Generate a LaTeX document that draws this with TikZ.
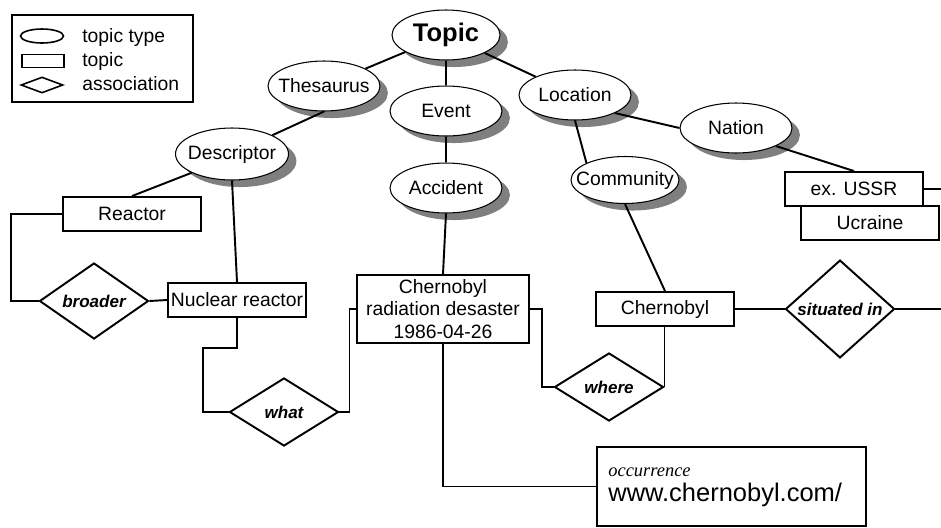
\documentclass[tikz,border=0pt]{standalone}
\usepackage{fontspec}
\setmainfont{Liberation Sans}
\newfontfamily\occserif{Liberation Serif}
\usepackage{tikz}
\usetikzlibrary{shapes.geometric,calc,backgrounds}
\newcommand{\zerowd}[1]{\makebox[0pt]{#1}}

\begin{document}
\begin{tikzpicture}[x=0.2mm, y=-0.2mm,
    every node/.style={font=\fontsize{11}{13}\selectfont},
    topictype/.style={ellipse, draw, line width=0.6pt, fill=white, inner sep=0pt, minimum width=2.24cm, minimum height=1.0cm},
    topicbox/.style={rectangle, draw, line width=1.1pt, fill=white, inner sep=0pt, minimum width=2.76cm, minimum height=0.68cm},
    assoc/.style={diamond, draw, line width=1.1pt, fill=white, inner sep=0pt, minimum width=2.18cm, minimum height=1.36cm, font=\fontsize{9.7}{11}\selectfont\bfseries\itshape},
    typeshadow/.style={fill=black, fill opacity=0.5},
    link/.style={line width=1.1pt}]
    \useasboundingbox (0,0) rectangle (941,527);
    \coordinate (rim) at (941,0);

    % Legend
    \node[draw, line width=0.9pt, inner sep=0pt, minimum width=3.62cm, minimum height=1.74cm] (legend) at (102.5,58.5) {};
    \node[ellipse, draw, line width=0.9pt, inner sep=0pt, minimum width=0.86cm, minimum height=0.28cm] (keytype) at (42,36) {};
    \node[rectangle, draw, line width=0.9pt, inner sep=0pt, minimum width=0.84cm, minimum height=0.26cm] (keytopic) at (43,61) {};
    \node[diamond, draw, line width=0.9pt, inner sep=0pt, minimum width=0.84cm, minimum height=0.32cm] (keyassoc) at (42,85) {};
    \node[anchor=base west, inner sep=0pt] (keytypetext) at (82,42) {topic type};
    \node[anchor=base west, inner sep=0pt] (keytopictext) at (82,66) {topic};
    \node[anchor=base west, inner sep=0pt] (keyassoctext) at (82,90) {association};

    % Topic types
    \node[topictype, minimum width=2.16cm, font=\fontsize{14.5}{16}\selectfont\bfseries] (topic) at (446,35) {\zerowd{Topic}};
    \node[topictype] (thesaurus) at (324,86) {\zerowd{Thesaurus}};
    \node[topictype] (event) at (446,111) {\zerowd{Event}};
    \node[topictype] (location) at (575,95) {\zerowd{Location}};
    \node[topictype] (nation) at (736,128) {\zerowd{Nation}};
    \node[topictype, minimum width=2.26cm, minimum height=1.04cm] (descriptor) at (232,154) {\zerowd{Descriptor}};
    \node[topictype] (accident) at (446,188) {\zerowd{Accident}};
    \node[topictype, minimum width=2.16cm, minimum height=0.94cm] (community) at (625,180) {\zerowd{Community}};

    % shadows of the topic types
    \begin{scope}[on background layer]
        \fill[typeshadow] (topic.center) ++(4.5pt,-4pt) ellipse [x radius=1.08cm, y radius=0.5cm];
        \fill[typeshadow] (thesaurus.center) ++(4.5pt,-4pt) ellipse [x radius=1.12cm, y radius=0.5cm];
        \fill[typeshadow] (event.center) ++(4.5pt,-4pt) ellipse [x radius=1.12cm, y radius=0.5cm];
        \fill[typeshadow] (location.center) ++(4.5pt,-4pt) ellipse [x radius=1.12cm, y radius=0.5cm];
        \fill[typeshadow] (nation.center) ++(4.5pt,-4pt) ellipse [x radius=1.12cm, y radius=0.5cm];
        \fill[typeshadow] (descriptor.center) ++(4.5pt,-4pt) ellipse [x radius=1.13cm, y radius=0.52cm];
        \fill[typeshadow] (accident.center) ++(4.5pt,-4pt) ellipse [x radius=1.12cm, y radius=0.5cm];
        \fill[typeshadow] (community.center) ++(4.5pt,-4pt) ellipse [x radius=1.08cm, y radius=0.47cm];
    \end{scope}

    % Topics
    \node[topicbox] (reactor) at (132,214) {Reactor};
    \node[topicbox] (nuclear) at (237,300) {Nuclear reactor};
    \node[topicbox, minimum width=3.44cm, minimum height=1.36cm, align=center, font=\fontsize{11}{12.6}\selectfont] (desaster) at (443,309) {Chernobyl\\radiation desaster\\1986-04-26};
    \node[topicbox] (chernobyl) at (665,309) {Chernobyl};
    \node[topicbox] (ucraine) at (870,223) {Ucraine};
    \node[topicbox] (ussr) at (854,189) {ex. USSR};

    % Associations
    \node[assoc] (broader) at (94,301) {broader};
    \node[assoc] (what) at (284,412) {what};
    \node[assoc] (where) at (609,387) {where};
    \node[assoc] (situated) at (840,309) {situated in};

    % Occurrence
    \node[topicbox, minimum width=5.38cm, minimum height=1.58cm] (occ) at (731.5,486.5) {};
    \node[anchor=base west, inner sep=0pt, font=\occserif\itshape\fontsize{10.5}{12}\selectfont] (occlabel) at (608,476) {occurrence};
    \node[anchor=base west, inner sep=0pt, font=\fontsize{14.5}{17}\selectfont] (occurl) at (608,501) {www.chernobyl.com/};

    % Connectors
    \draw[link] (topic) -- (thesaurus);
    \draw[link] (topic) -- (event);
    \draw[link] (topic) -- (location);
    \draw[link] (thesaurus.south) -- (descriptor.north east);
    \draw[link] (event) -- (accident);
    \draw[link] (location.south) -- (community.north west);
    \draw[link] (location.south east) -- (nation.west);
    \draw[link] (nation.south east) -- (ussr.north);
    \draw[link] (descriptor.south west) -- (reactor.north);
    \draw[link] (descriptor.south) -- (nuclear.north);
    \draw[link] (community.south) -- (chernobyl.north);
    \draw[link] (accident.south) -- (desaster.north);
    \draw[link] (reactor.west) -- ++(-51,0) |- (broader.west);
    \draw[link] (broader.east) -- (nuclear.west);
    \draw[link] (nuclear.south) |- ++(-34,30) |- (what.west);
    \draw[link] (what.east) -- ++(10,0) |- (desaster.west);
    \draw[link] (desaster.east) -- ++(12,0) |- (where.west);
    \draw[link] (where.east) -- (where.east |- chernobyl.south);
    \draw[link] (desaster.south) |- (occ.west);
    \draw[link] (chernobyl.east) -- (situated.west);
    \draw[link] (situated.east) -- (situated.east -| rim);
    \draw[link] (ussr.east) -- (ussr.east -| rim);
\end{tikzpicture}
\end{document}
